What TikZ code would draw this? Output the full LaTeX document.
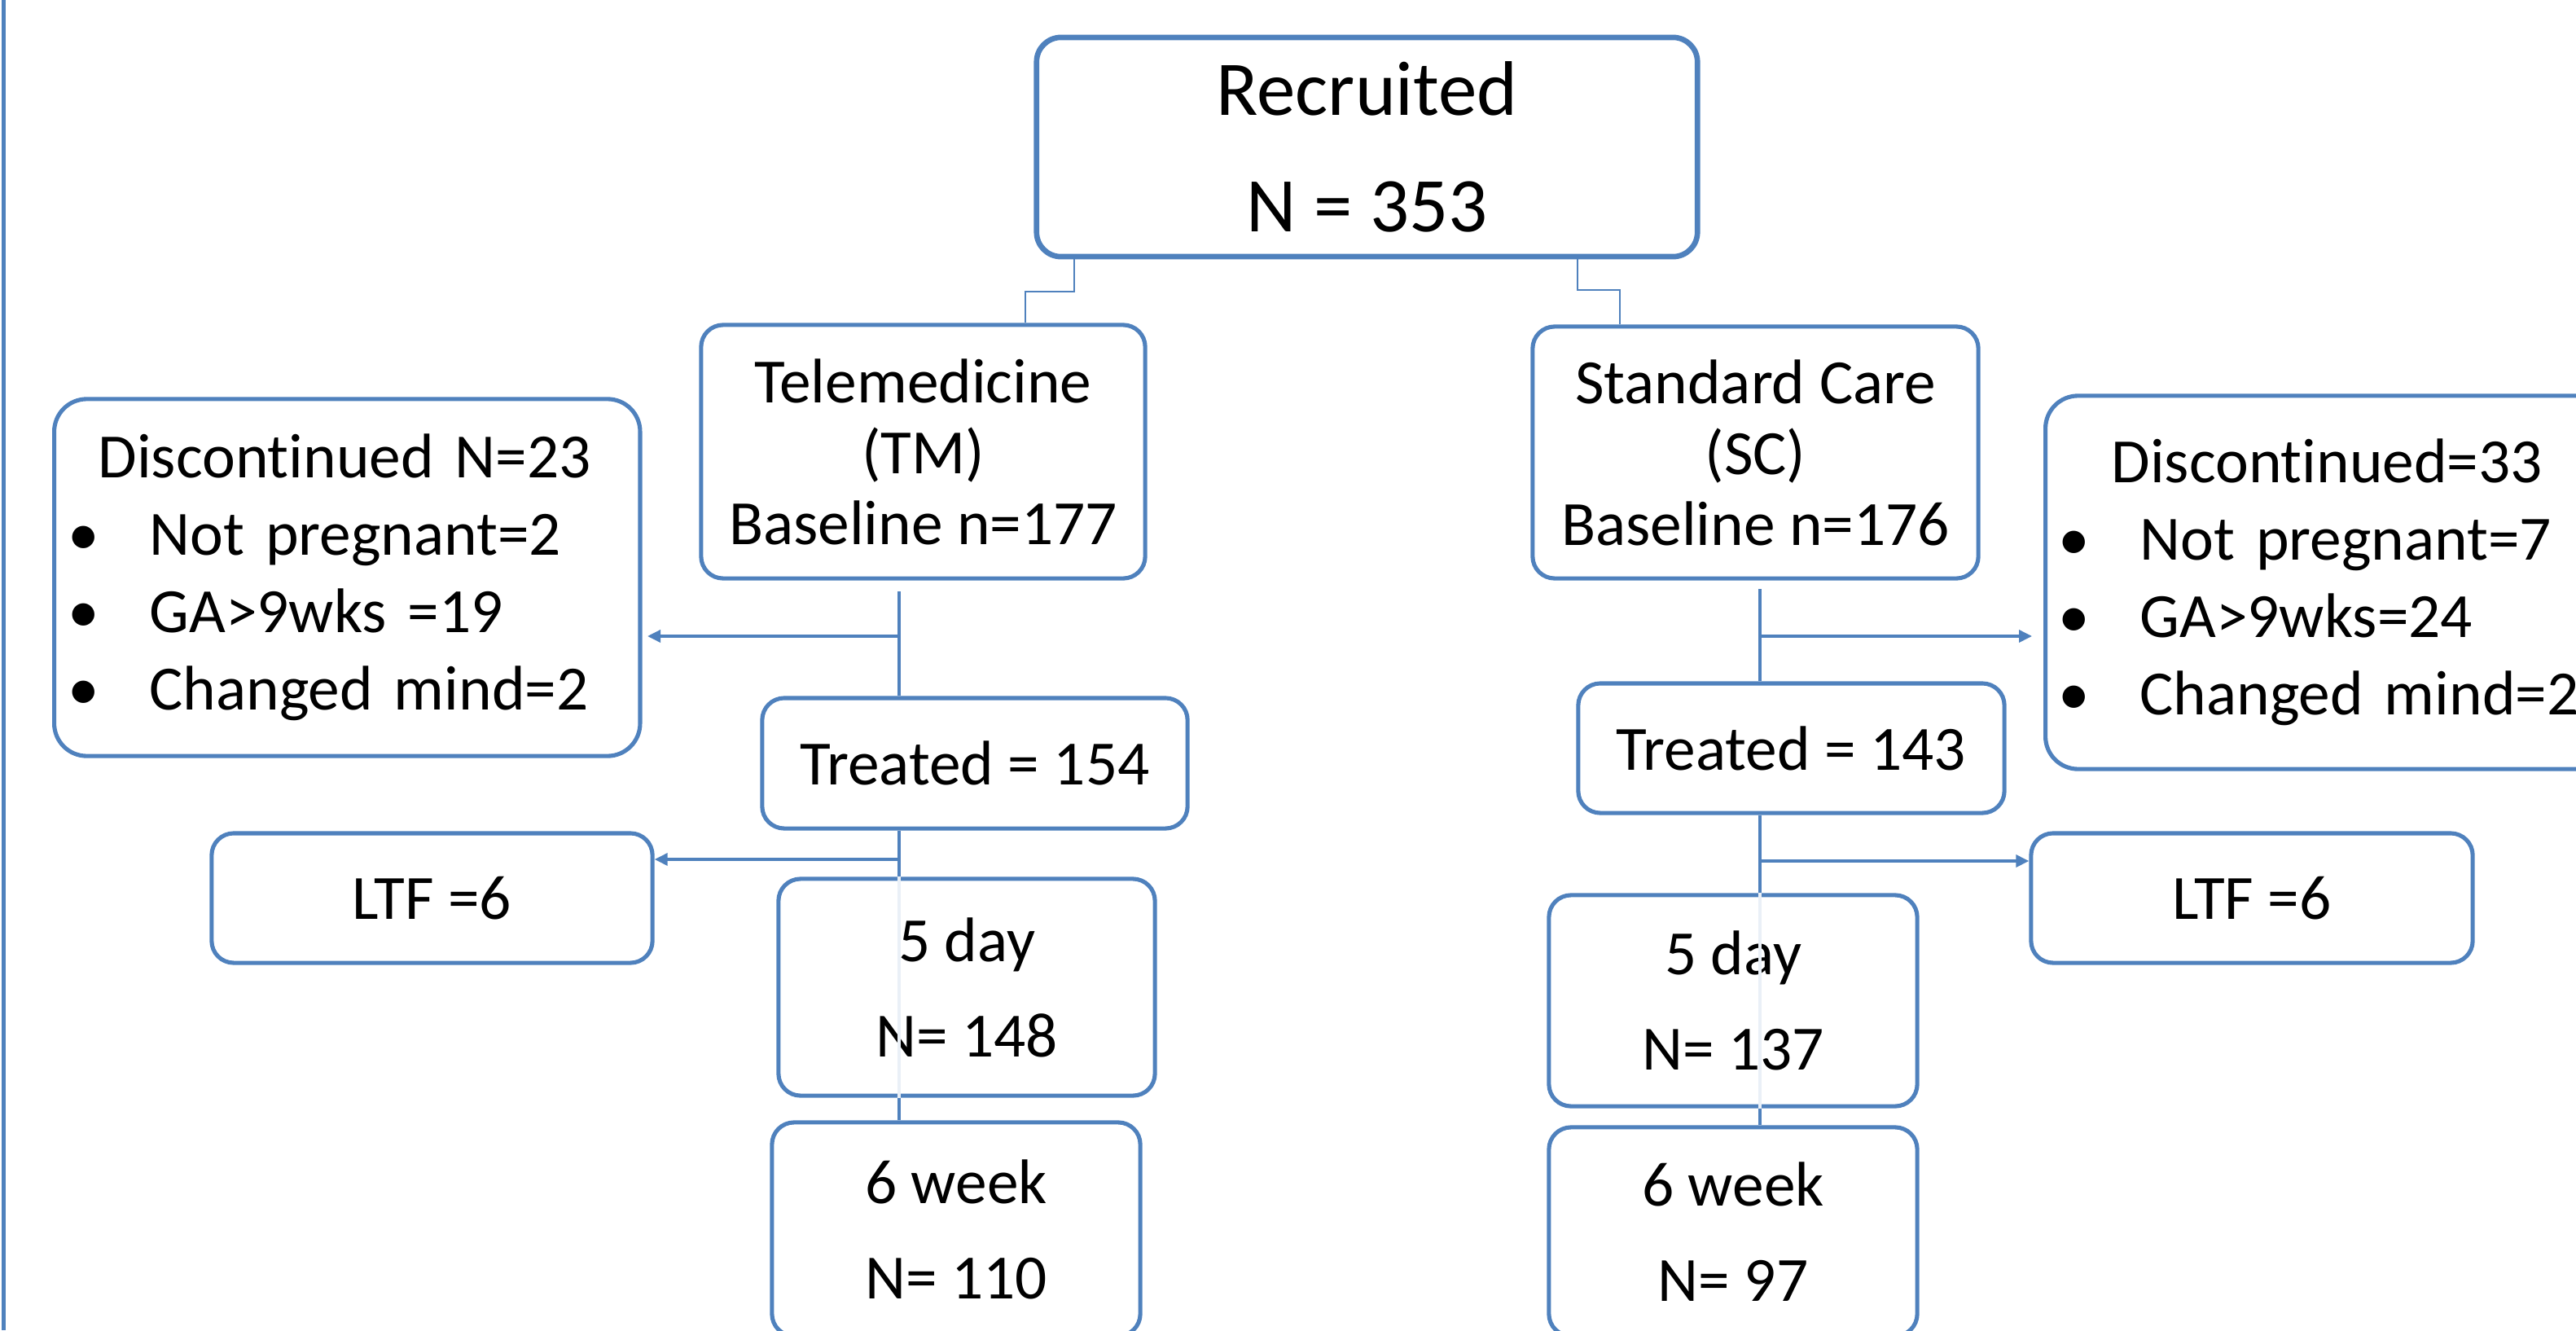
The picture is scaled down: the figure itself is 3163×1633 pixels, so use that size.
\documentclass[tikz,border=0pt]{standalone}
\usepackage{fontspec}
\setmainfont{Carlito}[Ligatures=CommonOff]
\usetikzlibrary{arrows.meta}

\definecolor{boxblue}{HTML}{4F81BD}
\newcommand{\bul}{\makebox[1cm][l]{\textbullet}}

\begin{document}
\begin{tikzpicture}[x=0.01cm, y=-0.01cm,
		box/.style={draw=boxblue, line width=1.45pt, rounded corners=0.27cm, fill=white,
			inner sep=0pt, align=center, font=\fontsize{22}{24.75}\selectfont},
		listbox/.style={box, rounded corners=0.4cm, anchor=west, align=left,
			font=\fontsize{22}{27}\selectfont},
		visit/.style={box, font=\fontsize{22}{33.3}\selectfont},
		link/.style={draw=boxblue, line width=1pt},
		elbow/.style={draw=boxblue, line width=0.6pt},
		faint/.style={draw=boxblue!12, line width=1pt},
		arrow/.style={link, -{Triangle[length=0.16cm, width=0.15cm]}}]
		
		\useasboundingbox (0,0) rectangle (3163,1633);
		\clip (0,0) rectangle (3163,1633);
		
		% frame line on the left
		\draw[boxblue, line width=1.4pt] (4.5,0) -- (4.5,1633);
		
		% top box
		\node[box, line width=1.9pt, rounded corners=0.3cm, minimum width=8.11cm, minimum height=2.69cm,
			font=\fontsize{27}{40.7}\selectfont] (rec) at (1678.5,180.5) {Recruited\\N = 353};
		
		% the two arms
		\node[box, minimum width=5.45cm, minimum height=3.11cm] (tm) at (1133.5,554.5)
			{Telemedicine\\(TM)\\Baseline n=177};
		\node[box, minimum width=5.47cm, minimum height=3.09cm] (sc) at (2155.5,555.5)
			{Standard Care\\(SC)\\Baseline n=176};
		
		% discontinued boxes
		\node[listbox, text width=6.85cm, inner xsep=0.17cm, minimum height=4.38cm] (tmdisc) at (64,709)
			{\hspace*{0.37cm}Discontinued N=23\\\bul Not pregnant=2\\\bul GA>9wks =19\\\bul Changed mind=2};
		\node[listbox, text width=7cm, inner xsep=0.16cm, minimum height=4.58cm] (scdisc) at (2509,715)
			{\hspace*{0.65cm}Discontinued=33\\\bul Not pregnant=7\\\bul GA>9wks=24\\\bul Changed mind=2};
		
		% treated
		\node[box, minimum width=5.22cm, minimum height=1.60cm] (tmtreat) at (1197,937) {Treated = 154};
		\node[box, minimum width=5.23cm, minimum height=1.59cm] (sctreat) at (2199.5,918.5) {Treated = 143};
		
		% lost to follow up
		\node[box, minimum width=5.41cm, minimum height=1.59cm] (tmltf) at (530.5,1102.5) {LTF =6};
		\node[box, minimum width=5.42cm, minimum height=1.59cm] (scltf) at (2765,1102.5) {LTF =6};
		
		% follow up visits
		\node[visit, minimum width=4.62cm, minimum height=2.66cm] (tm5) at (1187,1212) {5 day\\N= 148};
		\node[visit, minimum width=4.52cm, minimum height=2.59cm] (sc5) at (2128,1228.5) {5 day\\N= 137};
		\node[visit, minimum width=4.52cm, minimum height=2.62cm] (tm6) at (1174,1509) {6 week\\N= 110};
		\node[visit, minimum width=4.52cm, minimum height=2.56cm] (sc6) at (2128,1512) {6 week\\N= 97};
		
		% recruited to arms
		\draw[elbow] ([xshift=-3.595cm]rec.south) -- ++(0,40) -| ([xshift=1.255cm]tm.north);
		\draw[elbow] ([xshift=2.585cm]rec.south) -- ++(0,38) -| ([xshift=-1.665cm]sc.north);
		
		% telemedicine column
		\coordinate (tmtop) at (1104,726);
		\coordinate (tmfork) at (1104,781);
		\coordinate (tmout) at (795,781);
		\coordinate (tmlost) at (1104,1055);
		\draw[link] (tmtop) -- (tmtop |- tmtreat.north);
		\draw[arrow] (tmfork) -- (tmout);
		\draw[link] (tmtreat.south -| tmtop) -- (tm5.north -| tmtop);
		\draw[arrow] (tmlost) -- (tmlost -| tmltf.east);
		\draw[faint] (tm5.north -| tmtop) -- (tm5.south -| tmtop);
		\draw[link] (tm5.south -| tmtop) -- (tm6.north -| tmtop);
		
		% standard care column
		\coordinate (sctop) at (2161,723);
		\coordinate (scfork) at (2161,781);
		\coordinate (scout) at (2495,781);
		\coordinate (sclost) at (2161,1057);
		\draw[link] (sctop) -- (sctop |- sctreat.north);
		\draw[arrow] (scfork) -- (scout);
		\draw[link] (sctreat.south -| sctop) -- (sc5.north -| sctop);
		\draw[arrow] (sclost) -- (sclost -| scltf.west);
		\draw[faint] (sc5.north -| sctop) -- (sc5.south -| sctop);
		\draw[link] (sc5.south -| sctop) -- (sc6.north -| sctop);
	\end{tikzpicture}
\end{document}
